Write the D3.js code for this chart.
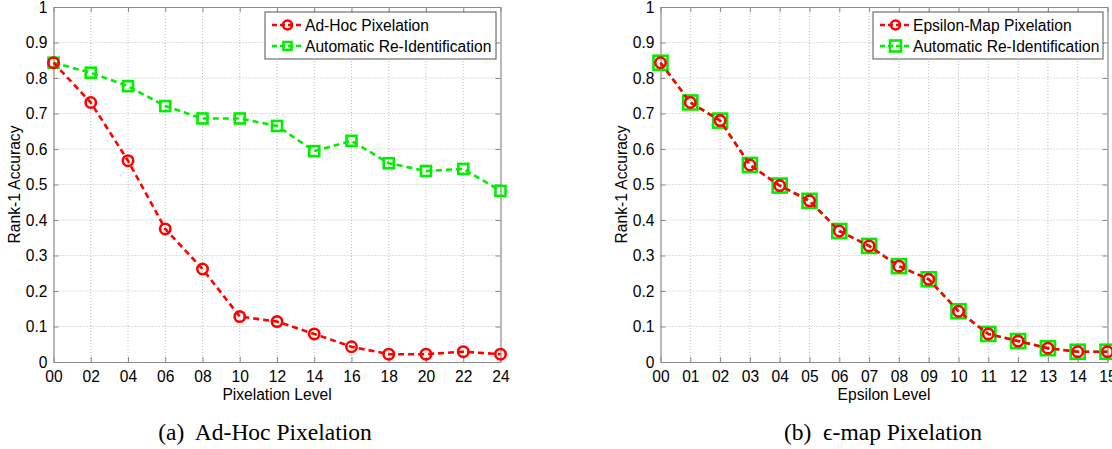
<!DOCTYPE html>
<html>
<head>
<meta charset="utf-8">
<script src="https://cdn.jsdelivr.net/npm/d3@7"></script>
<style>
  html, body { margin: 0; padding: 0; background: #fff; }
  svg { display: block; }
</style>
</head>
<body>
<svg id="chart" width="1112" height="449"></svg>
<script>
// ---------- Data ----------
const adhocLevels = [0, 2, 4, 6, 8, 10, 12, 14, 16, 18, 20, 22, 24];
const adhocAccuracy = [0.843, 0.731, 0.567, 0.375, 0.262, 0.128, 0.114, 0.079, 0.043, 0.022, 0.022, 0.029, 0.022];
const adhocReId = [0.843, 0.815, 0.777, 0.721, 0.686, 0.686, 0.665, 0.594, 0.623, 0.560, 0.538, 0.544, 0.482];

const epsilonLevels = [0, 1, 2, 3, 4, 5, 6, 7, 8, 9, 10, 11, 12, 13, 14, 15];
const epsilonAccuracy = [0.843, 0.731, 0.680, 0.555, 0.497, 0.454, 0.369, 0.327, 0.270, 0.233, 0.143, 0.079, 0.059, 0.039, 0.029, 0.029];
const epsilonReId = [0.843, 0.731, 0.680, 0.555, 0.497, 0.454, 0.369, 0.327, 0.270, 0.233, 0.143, 0.079, 0.059, 0.039, 0.029, 0.029];

const yTicks = [0, 0.1, 0.2, 0.3, 0.4, 0.5, 0.6, 0.7, 0.8, 0.9, 1];

const RED = "#ff0000";
const GREEN = "#00ee00";
const SANS = "Liberation Sans, Arial, Helvetica, sans-serif";
const FS = 15.6;

const svg = d3.select("#chart");

function yFmt(d) { return (d === 0 || d === 1) ? String(d) : d.toFixed(1); }

function drawPanel(cfg) {
  const x = d3.scaleLinear().domain(cfg.xDomain).range([cfg.left, cfg.right]);
  const y = d3.scaleLinear().domain([0, 1]).range([362, 7]);
  const g = svg.append("g");

  // grid
  const grid = g.append("g").attr("stroke", "#bdbdbd").attr("stroke-dasharray", "1,2").attr("stroke-width", 1);
  cfg.xTicks.forEach(t => {
    if (t === cfg.xDomain[0] || t === cfg.xDomain[1]) return;
    grid.append("line").attr("x1", x(t)).attr("x2", x(t)).attr("y1", y(0)).attr("y2", y(1));
  });
  yTicks.forEach(t => {
    if (t === 0 || t === 1) return;
    grid.append("line").attr("x1", x(cfg.xDomain[0])).attr("x2", x(cfg.xDomain[1])).attr("y1", y(t)).attr("y2", y(t));
  });

  // axes (MATLAB style: inward ticks, box)
  const axisColor = "#8a8a8a";
  const xb = g.append("g").attr("transform", `translate(0,${y(0)})`)
    .call(d3.axisBottom(x).tickValues(cfg.xTicks).tickFormat(d3.format("02d")).tickSizeInner(-5).tickSizeOuter(0).tickPadding(9));
  const xt = g.append("g").attr("transform", `translate(0,${y(1)})`)
    .call(d3.axisTop(x).tickValues(cfg.xTicks).tickFormat("").tickSizeInner(-5).tickSizeOuter(0));
  const yl = g.append("g").attr("transform", `translate(${x(cfg.xDomain[0])},0)`)
    .call(d3.axisLeft(y).tickValues(yTicks).tickFormat(yFmt).tickSizeInner(-5).tickSizeOuter(0).tickPadding(6));
  const yr = g.append("g").attr("transform", `translate(${x(cfg.xDomain[1])},0)`)
    .call(d3.axisRight(y).tickValues(yTicks).tickFormat("").tickSizeInner(-5).tickSizeOuter(0));
  [xb, xt, yl, yr].forEach(a => {
    a.select(".domain").attr("stroke", axisColor).attr("stroke-width", 1.2);
    a.selectAll(".tick line").attr("stroke", axisColor);
    a.selectAll(".tick text").attr("fill", "#000").attr("font-family", SANS).attr("font-size", FS);
  });

  // axis labels
  g.append("text").attr("x", (x(cfg.xDomain[0]) + x(cfg.xDomain[1])) / 2).attr("y", 400)
    .attr("text-anchor", "middle").attr("font-family", SANS).attr("font-size", FS)
    .text(cfg.xLabel);
  g.append("text").attr("transform", `translate(${x(cfg.xDomain[0]) - 33.5},${y(0.5)}) rotate(-90)`)
    .attr("text-anchor", "middle").attr("font-family", SANS).attr("font-size", FS)
    .text("Rank-1 Accuracy");

  // caption
  g.append("text").attr("x", cfg.captionX).attr("y", 440)
    .attr("text-anchor", "middle").attr("font-family", "Liberation Serif, Times New Roman, serif").attr("font-size", 23.5)
    .attr("xml:space", "preserve")
    .text(cfg.caption);

  const line = d3.line().x(d => x(d[0])).y(d => y(d[1]));

  function series(vals, color, marker, size) {
    const pts = cfg.levels.map((l, i) => [l, vals[i]]);
    g.append("path").datum(pts).attr("d", line).attr("fill", "none")
      .attr("stroke", color).attr("stroke-width", 2.6).attr("stroke-dasharray", "6,4");
    const mk = g.append("g").attr("fill", "none").attr("stroke", color).attr("stroke-width", 2.6);
    pts.forEach(p => {
      if (marker === "circle") {
        mk.append("circle").attr("cx", x(p[0])).attr("cy", y(p[1])).attr("r", size);
      } else {
        mk.append("rect").attr("x", x(p[0]) - size).attr("y", y(p[1]) - size)
          .attr("width", size * 2).attr("height", size * 2);
      }
    });
  }
  // draw in order so that red sits on top in the overlapping panel
  series(cfg.s2, GREEN, "square", cfg.sqSize);
  series(cfg.s1, RED, "circle", 5.2);

  // legend
  const lg = g.append("g");
  lg.append("rect").attr("x", cfg.legend.x).attr("y", 12).attr("width", cfg.legend.w).attr("height", 47)
    .attr("fill", "#fff").attr("stroke", "#555").attr("stroke-width", 1);
  const rows = [
    { label: cfg.names[0], color: RED, marker: "circle", cy: 25 },
    { label: cfg.names[1], color: GREEN, marker: "square", cy: 46 }
  ];
  rows.forEach(r => {
    const x0 = cfg.legend.x + cfg.legend.pad, x1 = x0 + 31;
    lg.append("line").attr("x1", x0).attr("x2", x1).attr("y1", r.cy).attr("y2", r.cy)
      .attr("stroke", r.color).attr("stroke-width", 2.6).attr("stroke-dasharray", "5,3");
    const cx = (x0 + x1) / 2;
    if (r.marker === "circle") {
      lg.append("circle").attr("cx", cx).attr("cy", r.cy).attr("r", 4.5)
        .attr("fill", "none").attr("stroke", r.color).attr("stroke-width", 2.6);
    } else {
      const s = cfg.legendSq;
      lg.append("rect").attr("x", cx - s).attr("y", r.cy - s).attr("width", 2 * s).attr("height", 2 * s)
        .attr("fill", "none").attr("stroke", r.color).attr("stroke-width", 2.6);
    }
    lg.append("text").attr("x", x1 + 2).attr("y", r.cy + 5.5)
      .attr("font-family", SANS).attr("font-size", FS)
      .text(r.label);
  });
}

drawPanel({
  xDomain: [0, 24], left: 53.5, right: 500.5,
  xTicks: adhocLevels, levels: adhocLevels,
  s1: adhocAccuracy, s2: adhocReId, sqSize: 5,
  xLabel: "Pixelation Level",
  caption: "(a)  Ad-Hoc Pixelation", captionX: 265,
  names: ["Ad-Hoc Pixelation", "Automatic Re-Identification"],
  legend: { x: 265, w: 231, pad: 7 }, legendSq: 4
});

drawPanel({
  xDomain: [0, 15], left: 660.5, right: 1107.5,
  xTicks: epsilonLevels, levels: epsilonLevels,
  s1: epsilonAccuracy, s2: epsilonReId, sqSize: 7,
  xLabel: "Epsilon Level",
  caption: "(b)  \u03F5-map Pixelation", captionX: 883,
  names: ["Epsilon-Map Pixelation", "Automatic Re-Identification"],
  legend: { x: 873, w: 230, pad: 7 }, legendSq: 5.5
});
</script>
</body>
</html>
